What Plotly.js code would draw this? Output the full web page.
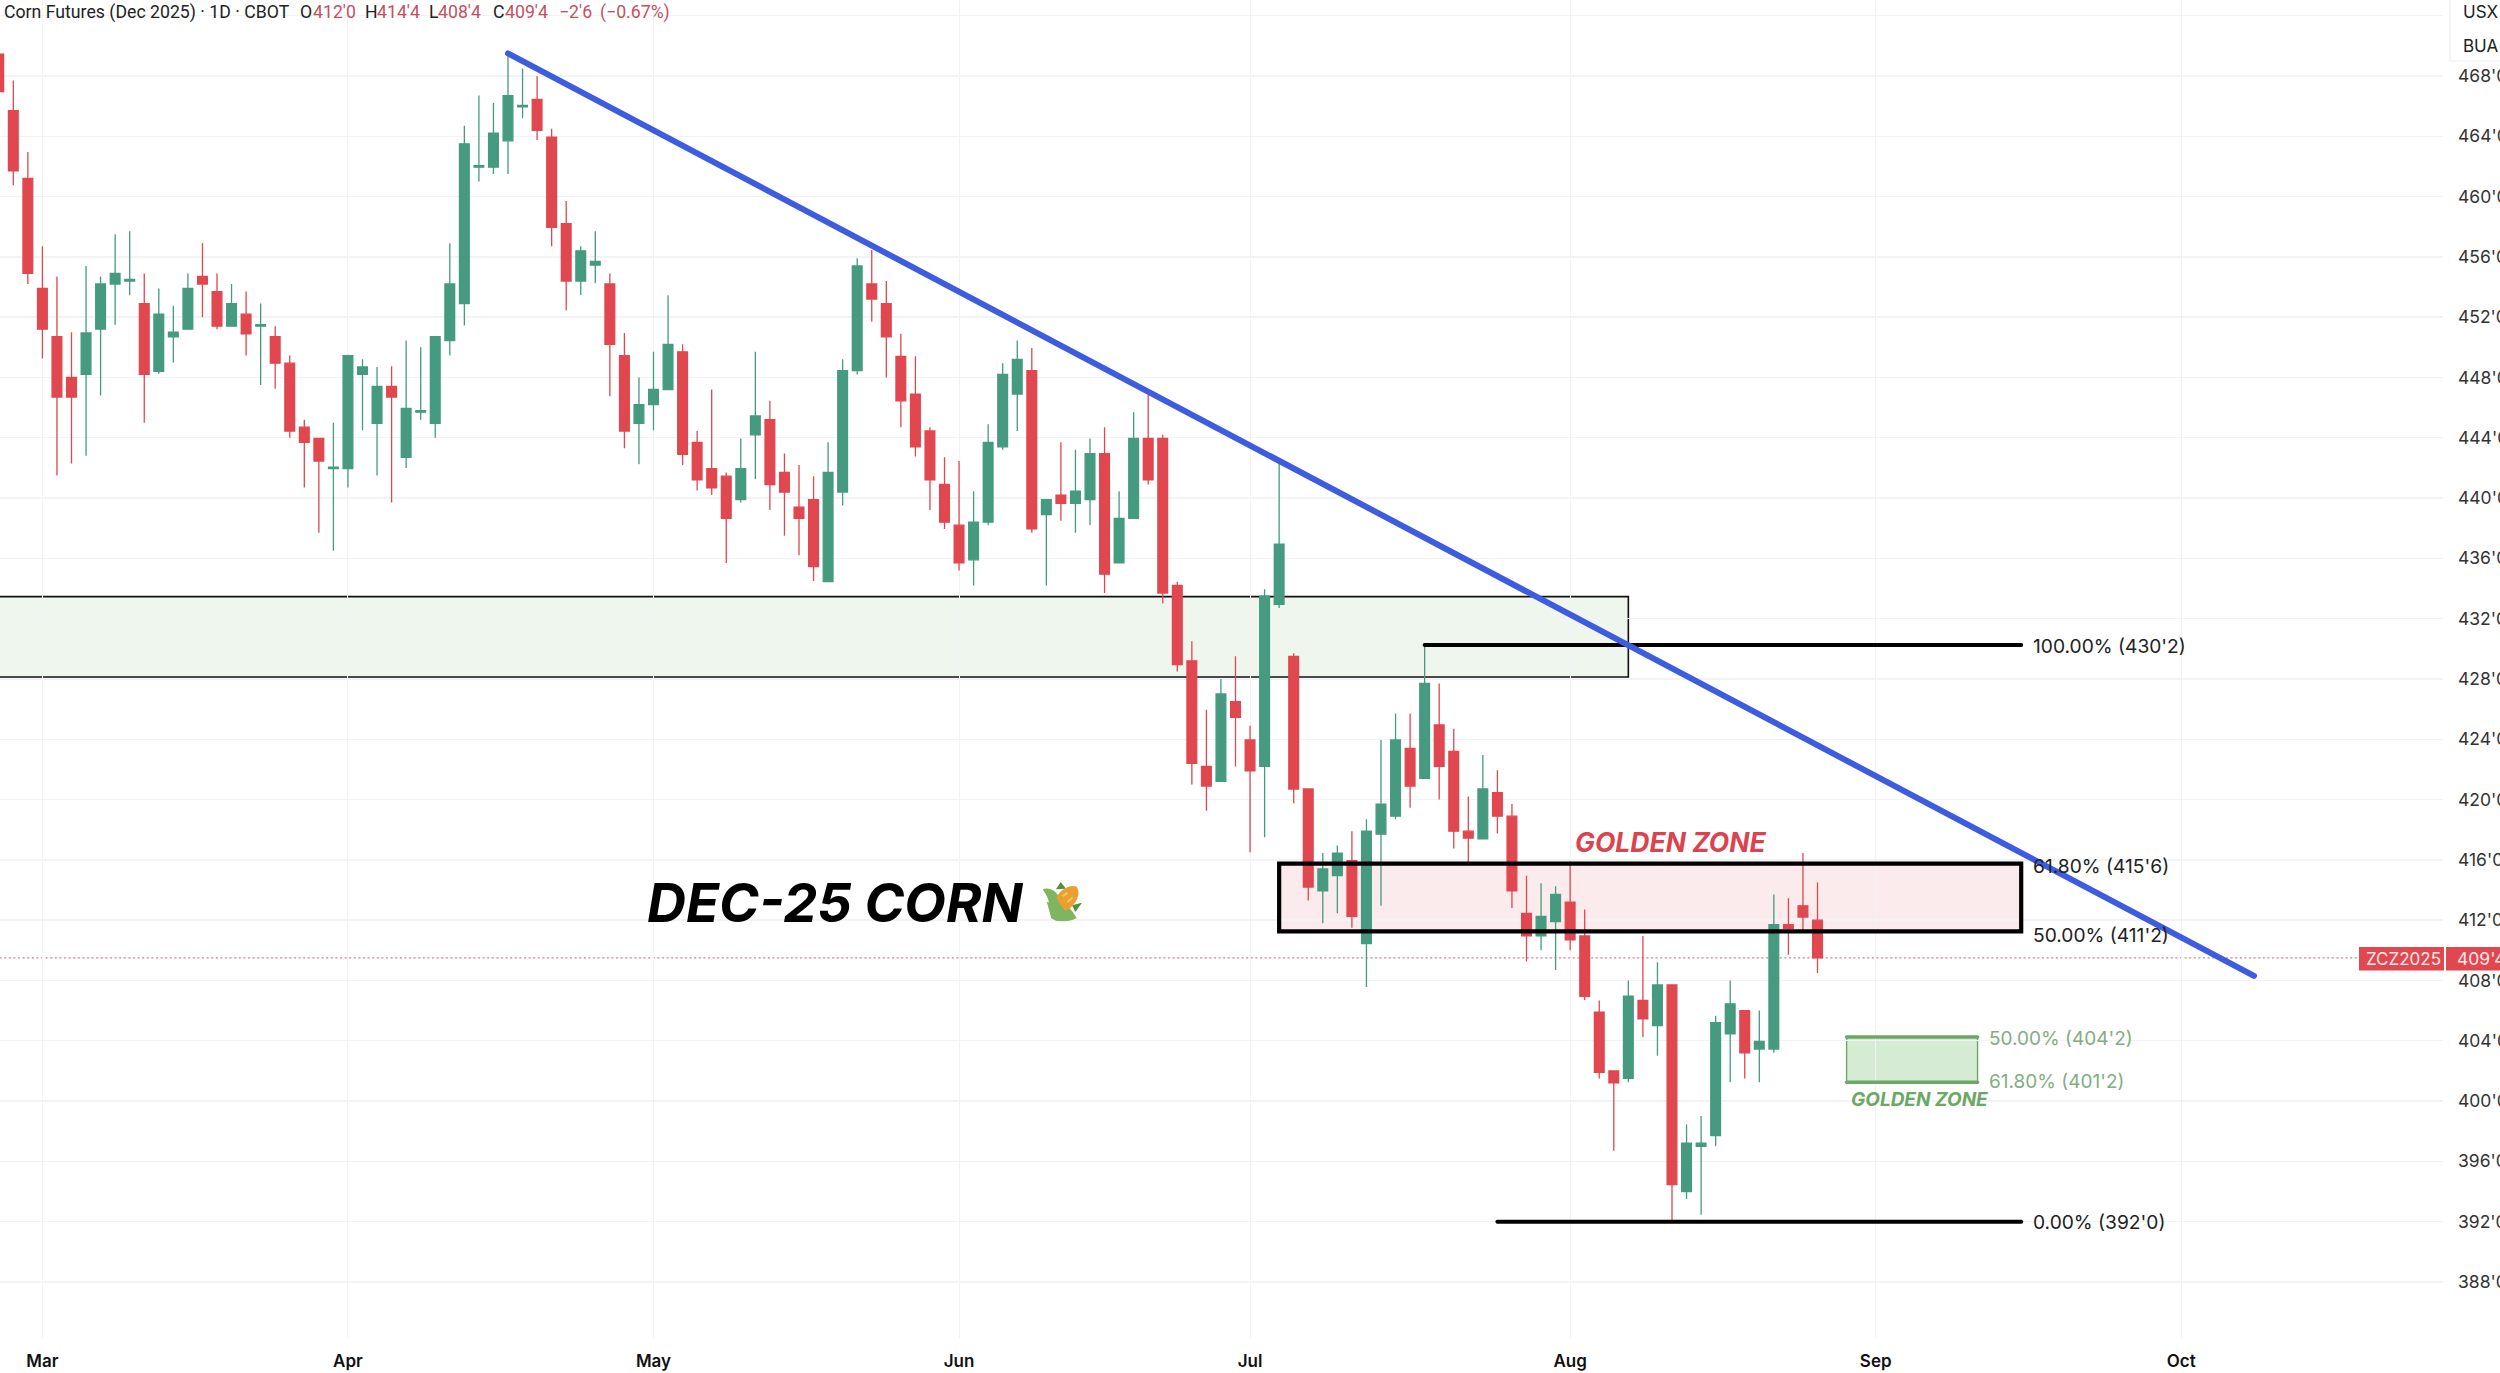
<!DOCTYPE html>
<html>
<head>
<meta charset="utf-8">
<script src="https://cdn.plot.ly/plotly-3.0.1.min.js"></script>
<style>
html,body{margin:0;padding:0;background:#fff;overflow:hidden}
#chart{width:2500px;height:1373px}
.shapelayer path{stroke-linecap:round}
</style>
</head>
<body>
<div id="chart"></div>
<script>
// Daily bars, oldest first; the first bar sits three sessions before the "Mar" tick.
const open = [
469.45,465.7,461.2,453.9,450.7,448,448.2,451.2,454.2,454.4,
452.9,448.4,450.7,451.2,454.7,453.7,451.4,452.2,451.4,450.7,
448.95,444.7,443.95,441.95,441.95,448.2,444.95,447.4,442.7,445.7,
444.95,450.45,452.9,461.95,461.95,463.7,465.95,466.45,463.95,458.2,
454.4,455.45,454.2,449.45,444.95,446.2,447.2,449.7,443.7,441.95,
441.45,439.9,444.2,445.2,441.7,439.4,439.9,434.45,440.4,448.45,
454.2,452.9,449.4,446.9,444.45,440.9,438.2,435.9,438.4,443.4,
446.9,448.45,438.9,440.2,439.65,439.9,442.95,435.7,438.65,443.95,
443.95,434.2,429.2,422.2,421.2,426.5,423.95,422.2,432.95,429.5,
420.7,413.95,414.95,415.95,410.45,417.7,418.9,423.4,421.4,424.95,
423.2,417.9,417.4,420.45,418.9,412.45,410.95,411.9,413.2,410.95,
405.9,402,401.5,406.67,405,407.7,394,397,397.7,404.45,
406,403.45,403.45,411.7,412.95,412];
const high = [
469.5,467.7,462.95,456.7,454.7,451,455.4,454.7,457.5,457.7,
454.9,453.9,452.75,454.9,456.9,454.9,454.2,453.7,452.9,451.4,
449.45,445.2,444,445,449.5,449.2,448.7,448.75,450.45,450,
450.75,456.9,464.7,466.7,466.2,469.5,468.5,468,464.5,459.7,
456.7,457.7,454.9,450.95,448,449.7,453.45,450.2,444.45,447.2,
441.7,443.95,449.7,446.45,442.95,442.2,441.45,443.7,449.2,455.9,
456.45,454.4,450.9,449.4,444.7,442.7,442.45,440.45,444.9,448.95,
450.45,449.95,439.9,443.7,443.2,443.95,444.7,440.45,445.7,446.95,
444.2,434.45,430.5,425.95,428,429.5,424.9,433.95,442.3,429.7,
420.7,416.45,416.95,417.9,418.7,423.95,425.7,425.7,430.2,427.7,
424.7,420.2,422.95,421.95,419.7,414.95,414.45,414.25,415.9,412.7,
406.67,402,408,410.95,409.2,407.7,398.45,399,405.65,408,
406,406,413.7,413.45,416.45,414.5];
const low = [
466.9,460.75,454.2,449.25,441.5,442.3,442.8,446.8,451.5,453.45,
445,448.25,449,451.2,452,451.2,451.4,449.45,447.5,447.25,
444,440.7,437.7,436.5,440.7,444.5,441.5,439.7,442,445.2,
444,449.45,451.45,461,461.5,461.5,465.2,463.75,456.7,452.45,
453.45,454.25,446.75,443.3,442.25,444.5,447.2,442.2,440.5,440.2,
435.7,439.7,441.25,439.2,437.5,436.2,434.5,434.45,439.5,448.2,
451.7,448,444.7,442.75,439.2,437.95,435.2,434.2,438.2,443.2,
444.45,437.7,434.2,438.5,437.7,438.2,433.7,435.7,438.65,440.9,
433,428.5,421,419.25,421.2,422.2,416.5,417.5,432.7,419.75,
413.3,411.8,412.45,411.5,407.57,412.95,418.7,419.45,421.4,420,
416.75,415.8,417.4,417.75,412.8,409.25,410,408.7,410,406.7,
401.5,396.7,401.25,404.25,403,392.05,393.5,392.45,397,401.25,
401.5,401.25,403.2,409.7,411.25,408.5];
const close = [
466.96,461.7,454.9,451.2,446.7,446.7,450.95,454.2,454.9,454.5,
448.2,452.2,451,453.9,454.2,451.4,452.9,450.9,451.5,448.95,
444.45,443.7,442.45,442.05,449.45,448.7,447.4,446.7,445.95,445.8,
450.7,454.2,463.5,462.05,464.2,466.7,466.05,464.4,457.95,454.4,
456.4,455.7,450.2,444.45,446.2,447.2,450.2,442.9,441.2,440.67,
438.65,441.95,445.45,440.9,440.4,438.65,435.45,441.7,448.45,455.4,
453.2,450.7,446.45,443.4,441.2,438.4,435.7,438.4,443.7,448.2,
449.2,437.95,439.9,439.65,440.45,442.95,434.95,438.65,443.95,441.2,
433.7,428.95,422.4,420.9,427,425.45,421.9,433.5,436.95,420.7,
414.2,415.4,416.45,412.25,417.9,419.7,423.95,420.9,427.7,422.2,
417.9,417.45,420.7,418.9,413.95,410.95,412.25,413.7,410.7,406.95,
401.9,401.2,406.95,405.45,407.7,394.45,397.2,397.2,405.2,406.45,
403.2,403.95,411.7,411.45,412.2,409.5];

const monthBars = [0,21,42,63,83,105,126,147];
const monthLabels = ['Mar','Apr','May','Jun','Jul','Aug','Sep','Oct'];
const priceTicks = [388,392,396,400,404,408,412,416,420,424,428,432,436,440,444,448,452,456,460,464,468,472];
const priceLabels = ["388'0","392'0","396'0","400'0","404'0","408'0","412'0","416'0","420'0","424'0","428'0","432'0","436'0","440'0","444'0","448'0","452'0","456'0","460'0","464'0","468'0",""];

const firstBar = -3;
const barIndex = open.map((_, i) => i + firstBar);

const trendline = {x0: 32, y0: 469.5, x1: 152, y1: 408.3};
const supplyZone = {x0: -4, x1: 109, top: 433.46, bottom: 428.13};
const fibLeft = {high: 95, low: 100, zone: 85}, fibRight = 136;
const fibLevels = {top: 430.25, g618: 415.75, g50: 411.25, bottom: 392};
const greenZone = {x0: 124, x1: 133, top: 404.25, bottom: 401.25};
const lastPrice = 409.5;

const W = 2443, H = 1338;
const xp = p => p / W, yp = p => 1 - p / H;

const RED = '#e0474f', GREEN = '#459a80', BLUE = '#3d5ce0', ZG = '#6aa864';
const FONT = 'Inter, "Liberation Sans", sans-serif';

const line = (x0, y0, x1, y1, color, width, extra) => Object.assign(
  {type:'line', x0, y0, x1, y1, xref:'x', yref:'y', line:{color, width}, layer:'above'}, extra||{});
const rect = (x0, y0, x1, y1, fill, extra) => Object.assign(
  {type:'rect', x0, y0, x1, y1, xref:'x', yref:'y', fillcolor:fill, line:{width:0}, layer:'below'}, extra||{});

const shapes = [
  rect(supplyZone.x0, supplyZone.bottom, supplyZone.x1, supplyZone.top, 'rgba(92,170,92,0.10)', {line:{color:'#111', width:1.6}}),
  rect(fibLeft.zone, fibLevels.g50, fibRight, fibLevels.g618, 'rgba(215,70,80,0.11)'),
  rect(fibLeft.zone, fibLevels.g50, fibRight, fibLevels.g618, 'rgba(0,0,0,0)', {layer:'above', line:{color:'#000', width:4.2}}),
  line(fibLeft.high, fibLevels.top, fibRight, fibLevels.top, '#000', 4),
  line(fibLeft.low, fibLevels.bottom, fibRight, fibLevels.bottom, '#000', 4),
  rect(greenZone.x0, greenZone.bottom, greenZone.x1, greenZone.top, 'rgba(120,190,110,0.30)', {line:{color:ZG, width:1.4}}),
  line(greenZone.x0, greenZone.top, greenZone.x1, greenZone.top, ZG, 3.6),
  line(greenZone.x0, greenZone.bottom, greenZone.x1, greenZone.bottom, ZG, 3.6),
  {type:'line', xref:'paper', yref:'y', x0:0, x1:xp(2359), y0:lastPrice, y1:lastPrice, layer:'below', line:{color:'#c0858a', width:1.2, dash:'1.2px,3.4px'}},
  line(trendline.x0, trendline.y0, trendline.x1, trendline.y1, BLUE, 6),
  {type:'rect', xref:'paper', yref:'paper', x0:xp(2359), x1:xp(2444), y0:yp(970.5), y1:yp(947), fillcolor:RED, line:{width:0}, layer:'above'},
  {type:'rect', xref:'paper', yref:'paper', x0:xp(2446), x1:xp(2500), y0:yp(970.5), y1:yp(947), fillcolor:RED, line:{width:0}, layer:'above'},
  {type:'rect', xref:'paper', yref:'paper', x0:xp(2450), x1:xp(2510), y0:yp(61), y1:yp(-5), fillcolor:'#fff', line:{color:'#efefef', width:1.2}, layer:'above'}
];

const txt = (px, py, text, size, color, extra) => Object.assign({
  xref:'paper', yref:'paper', x:xp(px), y:yp(py), text, showarrow:false, xanchor:'left', yanchor:'middle',
  borderpad:0, borderwidth:0, font:{family:FONT, size, color}, align:'left'
}, extra||{});
const HDR = '#c4505f', HF = {family:'Roboto, Inter, sans-serif', size:17.7};
const hd = (px, text, color) => txt(px, 12, text, HF.size, color, {font:{family:HF.family, size:HF.size, color}});

const annotations = [
  hd(4, "Corn Futures (Dec 2025) · 1D · CBOT", '#222'),
  hd(300, "O", '#222'), hd(312.5, "412'0", HDR),
  hd(365, "H", '#222'), hd(377, "414'4", HDR),
  hd(429, "L", '#222'), hd(438, "408'4", HDR),
  hd(493, "C", '#222'), hd(505, "409'4", HDR),
  hd(559, "−2'6", HDR), hd(600, "(−0.67%)", HDR),
  txt(2463, 12, 'USX', 17, '#222'),
  txt(2463, 45.5, 'BUA', 17, '#222'),
  txt(2033, 646, "100.00% (430'2)", 19.2, '#222'),
  txt(2033, 866, "61.80% (415'6)", 19.2, '#222'),
  txt(2033, 934.5, "50.00% (411'2)", 19.2, '#222'),
  txt(2033, 1222, "0.00% (392'0)", 19.2, '#222'),
  txt(1989, 1038, "50.00% (404'2)", 19, '#82ad82'),
  txt(1989, 1081, "61.80% (401'2)", 19, '#82ad82'),
  txt(1851, 1099, "<b><i>GOLDEN ZONE</i></b>", 19, '#6aa864'),
  txt(1575, 842, "<b><i>GOLDEN ZONE</i></b>", 26.5, '#d9444f'),
  txt(647, 902, "<b><i>DEC-25 CORN</i></b>", 54, '#000'),
  txt(2366, 958.5, "ZCZ2025", 17, '#fbe9ea'),
  txt(2457, 958.5, "409'4", 17.5, '#fbe9ea')
];

const cornSvg = `<svg xmlns="http://www.w3.org/2000/svg" viewBox="0 0 120 120"><path fill="#4f8f3f" d="M42 22 L56 0 L72 20 Z"/><path fill="#4f8f3f" d="M90 70 L120 62 L100 90 Z"/><path fill="#7fb55f" d="M2 22 C24 14 44 30 50 44 C70 64 92 86 104 108 C80 122 46 120 28 108 C22 78 26 54 2 22 Z"/><path fill="#e9a02f" d="M44 44 C58 20 86 6 104 14 C118 34 104 66 72 88 C60 76 48 60 44 44 Z"/><path fill="#f7c85a" d="M60 40 l14 -10 l4 5 l-14 10 Z M74 58 l16 -14 l4 4 l-16 14 Z"/><path fill="#7fb55f" d="M14 60 C40 62 66 84 84 112 C60 122 40 118 28 108 C22 90 20 76 14 60 Z"/></svg>`;

const images = [{
  source: 'data:image/svg+xml;base64,' + btoa(cornSvg),
  xref:'paper', yref:'paper', x:xp(1042), y:yp(882), sizex:40/W, sizey:40/H,
  xanchor:'left', yanchor:'top', sizing:'stretch', layer:'above'
}];

const trace = {
  type:'candlestick', x:barIndex, open, high, low, close,
  increasing:{line:{color:GREEN, width:1.3}, fillcolor:GREEN},
  decreasing:{line:{color:RED, width:1.3}, fillcolor:RED},
  whiskerwidth:0, hoverinfo:'skip', showlegend:false
};

const layout = {
  width:2500, height:1373, paper_bgcolor:'#fff', plot_bgcolor:'#fff',
  margin:{l:0, r:57, t:0, b:35, pad:0}, showlegend:false, boxgap:0.33, boxgroupgap:0,
  font:{family:FONT},
  xaxis:{type:'linear', range:[-2.914,164.99], tickmode:'array', tickvals:monthBars, ticktext:monthLabels,
    showgrid:true, gridcolor:'#f1f2f5', gridwidth:1, zeroline:false, showline:false, ticks:'', ticklabelstandoff:11,
    tickfont:{family:FONT, size:17, color:'#111', weight:600}, rangeslider:{visible:false}, fixedrange:true},
  yaxis:{side:'right', range:[384.28,473.04], tickmode:'array', tickvals:priceTicks, ticktext:priceLabels,
    showgrid:true, gridcolor:'#f3f3f5', gridwidth:1.4, zeroline:false, showline:false, ticks:'', ticklabelstandoff:14,
    tickfont:{family:FONT, size:17.5, color:'#333'}, fixedrange:true},
  shapes, annotations, images
};

Plotly.newPlot('chart', [trace], layout, {staticPlot:true, displayModeBar:false});
</script>
</body>
</html>
